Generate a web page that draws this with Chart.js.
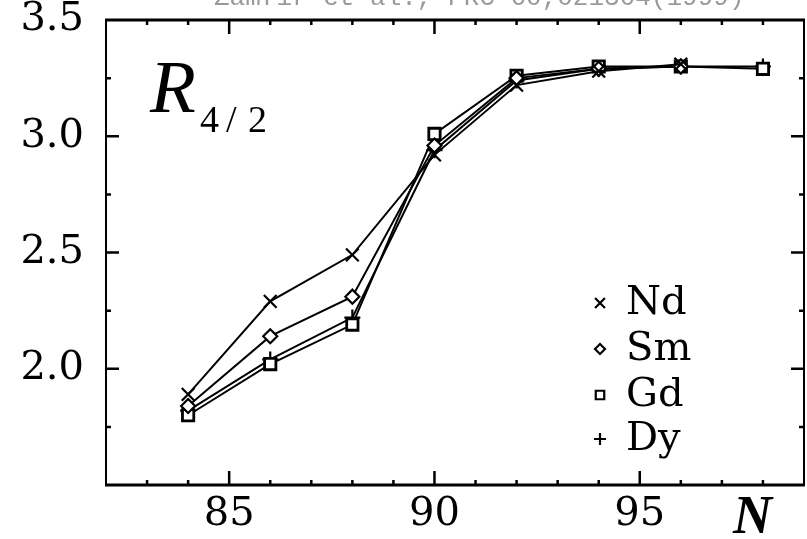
<!DOCTYPE html>
<html>
<head>
<meta charset="utf-8">
<title>R4/2 vs N</title>
<script src="https://cdn.jsdelivr.net/npm/chart.js@4.4.1/dist/chart.umd.min.js"></script>
<style>
  html, body { margin: 0; padding: 0; background: #fff; overflow: hidden; }
  #ratioChart { display: block; }
</style>
</head>
<body>
<canvas id="ratioChart" width="807" height="539"></canvas>
<script>
// Neutron numbers and E(4+)/E(2+) ratios for each element
const neutrons = [84, 86, 88, 90, 92, 94, 96, 98];
const ndRatio = [1.89, 2.29, 2.49, 2.92, 3.22, 3.28, 3.31, null];
const smRatio = [1.84, 2.14, 2.31, 2.96, 3.25, 3.29, 3.30, null];
const gdRatio = [1.80, 2.02, 2.19, 3.01, 3.26, 3.30, 3.30, 3.29];
const dyRatio = [1.82, 2.04, 2.22, 2.94, 3.24, 3.29, 3.30, 3.30];

const elements = ['Nd', 'Sm', 'Gd', 'Dy'];
const markers = ['crossRot', 'rectRot', 'rect', 'cross'];

const yLabelValues = [2.0, 2.5, 3.0, 3.5];
const xLabelValues = [85, 90, 95];

function toPoints(values) {
    return neutrons.map((n, i) => ({ x: n, y: values[i] })).filter(p => p.y !== null);
}

const series = [ndRatio, smRatio, gdRatio, dyRatio];
const markerSize = [9, 7, 8, 8];

const datasets = series.map((values, i) => ({
    label: elements[i],
    data: toPoints(values),
    borderColor: '#000',
    borderWidth: 2,
    backgroundColor: i === 1 || i === 2 ? '#fff' : '#000',
    pointStyle: markers[i],
    pointRadius: markerSize[i],
    pointBorderColor: '#000',
    pointBorderWidth: i === 2 ? 2.8 : 2.2,
    tension: 0
}));

// frame with inward ticks on all four sides
const framePlugin = {
    id: 'frame',
    afterDraw(chart) {
        const { ctx, chartArea: a, scales: { x, y } } = chart;
        ctx.save();
        ctx.strokeStyle = '#000';
        ctx.lineCap = 'butt';

        ctx.lineWidth = 3;
        ctx.beginPath();
        ctx.moveTo(a.left - 1, a.top); ctx.lineTo(a.right + 1, a.top);
        ctx.moveTo(a.left - 1, a.bottom); ctx.lineTo(a.right + 1, a.bottom);
        ctx.stroke();
        ctx.lineWidth = 2;
        ctx.beginPath();
        ctx.moveTo(a.left, a.top); ctx.lineTo(a.left, a.bottom);
        ctx.moveTo(a.right, a.top); ctx.lineTo(a.right, a.bottom);
        ctx.stroke();

        ctx.lineWidth = 2.5;
        for (let n = 83; n <= 98; n++) {
            const px = x.getPixelForValue(n);
            const len = n % 5 === 0 ? 14 : 5;
            ctx.beginPath();
            ctx.moveTo(px, a.bottom); ctx.lineTo(px, a.bottom - len);
            ctx.moveTo(px, a.top); ctx.lineTo(px, a.top + len);
            ctx.stroke();
        }
        for (let v = 1.75; v < 3.5; v += 0.25) {
            const py = y.getPixelForValue(v);
            const len = Math.abs(v * 2 - Math.round(v * 2)) < 1e-6 ? 13 : 5;
            ctx.beginPath();
            ctx.moveTo(a.left, py); ctx.lineTo(a.left + len, py);
            ctx.moveTo(a.right, py); ctx.lineTo(a.right - len, py);
            ctx.stroke();
        }
        ctx.restore();
    }
};

// in-plot legend, axis symbols and the citation line
const notesPlugin = {
    id: 'notes',
    afterDraw(chart) {
        const { ctx } = chart;
        ctx.save();

        // citation, cut off at the top edge
        ctx.fillStyle = '#9a9a9a';
        ctx.font = '26px "Liberation Mono"';
        ctx.textBaseline = 'alphabetic';
        ctx.textAlign = 'left';
        ctx.fillText('Zamfir et al., PRC 60,021304(1999)', 214, 5);

        // R_4/2 label
        ctx.fillStyle = '#000';
        ctx.font = 'italic 75px "Liberation Serif"';
        ctx.fillText('R', 150, 112);
        ctx.font = '38px "Liberation Serif"';
        ctx.fillText('4', 200, 132);
        ctx.fillText('/', 226, 132);
        ctx.fillText('2', 248, 132);

        // N label
        ctx.font = 'bold italic 54px "Liberation Serif"';
        ctx.fillText('N', 733, 533);

        // legend
        const rows = [303, 349, 395, 439];
        const sizes = [7, 5, 6, 6];
        ctx.font = '40px "DejaVu Serif"';
        ctx.textBaseline = 'middle';
        elements.forEach((name, i) => {
            ctx.strokeStyle = '#000';
            ctx.fillStyle = i === 1 || i === 2 ? '#fff' : '#000';
            ctx.lineWidth = 2.2;
            Chart.helpers.drawPoint(ctx, {
                pointStyle: markers[i],
                radius: sizes[i],
                rotation: 0,
                borderWidth: 2.2
            }, 600, rows[i]);
            ctx.fillStyle = '#000';
            ctx.fillText(name, 626, rows[i] + 1);
        });
        ctx.restore();
    }
};

const ctx = document.getElementById('ratioChart').getContext('2d');
const ratioChart = new Chart(ctx, {
    type: 'line',
    data: { datasets: datasets },
    options: {
        responsive: false,
        animation: false,
        devicePixelRatio: 1,
        layout: { autoPadding: false, padding: { top: 20, right: 3, left: 0, bottom: 0 } },
        plugins: {
            legend: { display: false },
            tooltip: { enabled: false }
        },
        scales: {
            x: {
                type: 'linear',
                min: 82,
                max: 99,
                border: { display: false },
                grid: { display: false, drawTicks: false },
                afterFit(scale) {
                    scale.height = 54;
                    scale.paddingLeft = 0;
                    scale.paddingRight = 0;
                },
                afterBuildTicks(scale) {
                    scale.ticks = xLabelValues.map(v => ({ value: v }));
                },
                ticks: {
                    padding: 10,
                    color: '#000',
                    maxRotation: 0,
                    font: { family: '"DejaVu Serif"', size: 40, lineHeight: 1 },
                    callback: v => String(v)
                }
            },
            y: {
                min: 1.5,
                max: 3.5,
                border: { display: false },
                grid: { display: false, drawTicks: false },
                afterFit(scale) {
                    scale.width = 106;
                    scale.paddingTop = 0;
                    scale.paddingBottom = 0;
                },
                afterBuildTicks(scale) {
                    scale.ticks = yLabelValues.map(v => ({ value: v }));
                },
                ticks: {
                    padding: 22,
                    color: '#000',
                    font: { family: '"DejaVu Serif"', size: 40, lineHeight: 1 },
                    callback: v => Number(v).toFixed(1)
                }
            }
        }
    },
    plugins: [framePlugin, notesPlugin]
});
</script>
</body>
</html>
